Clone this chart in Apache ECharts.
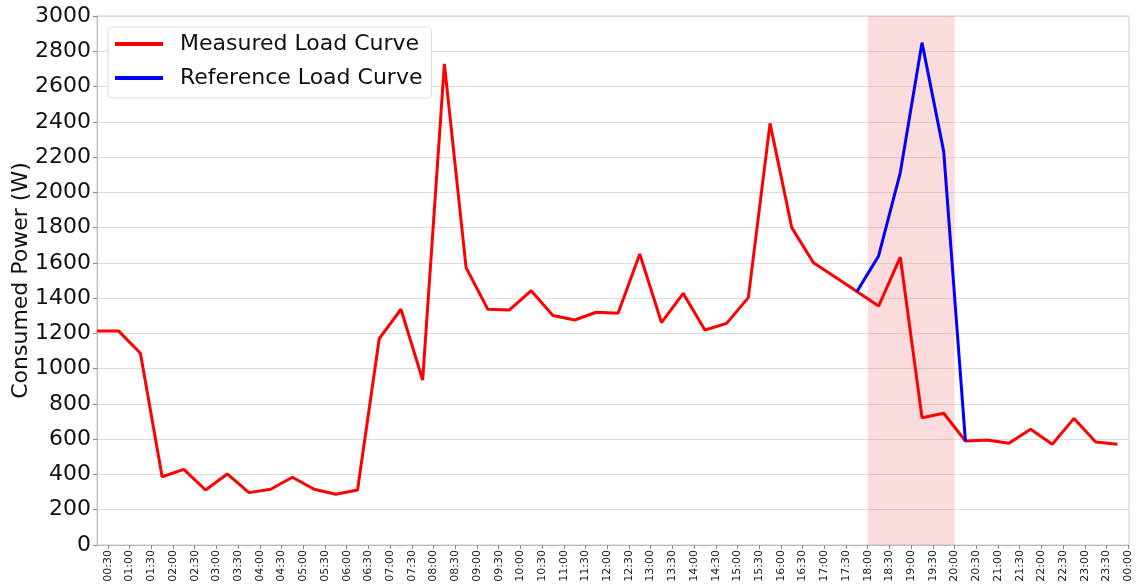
<!DOCTYPE html>
<html>
<head>
<meta charset="utf-8">
<script src="https://cdn.jsdelivr.net/npm/echarts@6/dist/echarts.min.js"></script>
<style>
  html, body { margin: 0; padding: 0; background: #fff; }
  #chart { width: 1139px; height: 585px; }
</style>
</head>
<body>
<div id="chart"></div>
<script>
// tick labels on the time axis (half-hour marks, last one is midnight)
const timeLabels = [
  '00:30', '01:00', '01:30', '02:00', '02:30', '03:00', '03:30', '04:00',
  '04:30', '05:00', '05:30', '06:00', '06:30', '07:00', '07:30', '08:00',
  '08:30', '09:00', '09:30', '10:00', '10:30', '11:00', '11:30', '12:00',
  '12:30', '13:00', '13:30', '14:00', '14:30', '15:00', '15:30', '16:00',
  '16:30', '17:00', '17:30', '18:00', '18:30', '19:00', '19:30', '20:00',
  '20:30', '21:00', '21:30', '22:00', '22:30', '23:00', '23:30', '00:00'
];

// one reading per half hour, centred on the slot (00:15, 00:45, ...)
const measured = [
  1213, 1213, 1087, 387, 429, 312, 403, 297,
  316, 384, 316, 288, 312, 1170, 1337, 936,
  2728, 1573, 1337, 1333, 1442, 1302, 1276, 1320,
  1314, 1650, 1261, 1427, 1219, 1257, 1403, 2391,
  1800, 1601, 1520, 1437, 1355, 1632, 722, 747,
  590, 595, 577, 656, 571, 718, 584, 571
];

// reference curve only exists around the event window
const reference = [
  null, null, null, null, null, null, null, null,
  null, null, null, null, null, null, null, null,
  null, null, null, null, null, null, null, null,
  null, null, null, null, null, null, null, null,
  null, null, null, 1437, 1639, 2112, 2849, 2231,
  588, null, null, null, null, null, null, null
];

// shaded event window
const eventStart = '18:00';
const eventEnd = '20:00';

const toMin = s => {
  const [h, m] = s.split(':').map(Number);
  return h * 60 + m;
};
const tickValues = timeLabels.map((l, i) => (i + 1) * 30);
const labelOf = {};
tickValues.forEach((v, i) => { labelOf[v] = timeLabels[i]; });

const slotTime = i => 15 + i * 30;
const measuredData = measured.map((v, i) => [slotTime(i), v]);
const referenceData = reference.map((v, i) => [slotTime(i), v]);

const font = 'DejaVu Sans';

const chart = echarts.init(document.getElementById('chart'));

const option = {
  animation: false,
  textStyle: { fontFamily: font },
  grid: {
    left: 97, right: 10, top: 16, bottom: 40,
    containLabel: false,
    outerBoundsMode: 'none',
    show: true, borderColor: '#cccccc', borderWidth: 1
  },
  legend: {
    orient: 'vertical',
    left: 108, top: 27,
    padding: [5, 9, 8, 7],
    backgroundColor: '#ffffff',
    borderColor: '#dddddd',
    borderWidth: 1,
    borderRadius: 4,
    itemWidth: 48,
    itemHeight: 4,
    itemGap: 10,
    icon: 'rect',
    textStyle: { fontFamily: font, fontSize: 22, color: '#111', lineHeight: 24, padding: [0, 0, 0, 12] },
    data: ['Measured Load Curve', 'Reference Load Curve']
  },
  xAxis: {
    type: 'value',
    min: 15,
    max: 1441,
    axisLine: { show: true, onZero: false, lineStyle: { color: '#bbbbbb' } },
    axisTick: { show: true, length: 4, customValues: tickValues, lineStyle: { color: '#888' } },
    splitLine: { show: false },
    axisLabel: {
      customValues: tickValues,
      rotate: 90,
      fontFamily: font,
      fontSize: 11,
      color: '#222',
      margin: 5,
      formatter: v => labelOf[v] || ''
    }
  },
  yAxis: {
    type: 'value',
    min: 0,
    max: 3000,
    interval: 200,
    name: 'Consumed Power (W)',
    nameLocation: 'middle',
    nameGap: 65,
    nameMoveOverlap: false,
    nameTextStyle: { fontFamily: font, fontSize: 22, color: '#111' },
    axisLine: { show: true, lineStyle: { color: '#bbbbbb' } },
    axisTick: { show: true, length: 4, lineStyle: { color: '#888' } },
    splitLine: { show: true, lineStyle: { color: '#dddddd', width: 1 } },
    axisLabel: {
      fontFamily: font, fontSize: 22, color: '#111', margin: 6,
      formatter: v => String(v)
    }
  },
  series: [
    {
      name: 'event',
      type: 'line',
      data: [],
      z: 1,
      silent: true,
      markArea: {
        silent: true,
        itemStyle: { color: 'rgba(240,128,128,0.28)' },
        data: [[{ xAxis: toMin(eventStart) }, { xAxis: toMin(eventEnd) }]]
      }
    },
    {
      name: 'Measured Load Curve',
      type: 'line',
      data: measuredData,
      symbol: 'none',
      z: 3,
      color: '#ff0000',
      lineStyle: { color: '#ff0000', width: 3 }
    },
    {
      name: 'Reference Load Curve',
      type: 'line',
      data: referenceData,
      symbol: 'none',
      connectNulls: false,
      z: 4,
      color: '#0000ff',
      lineStyle: { color: '#0000ff', width: 3 }
    }
  ]
};

chart.setOption(option);
</script>
</body>
</html>
